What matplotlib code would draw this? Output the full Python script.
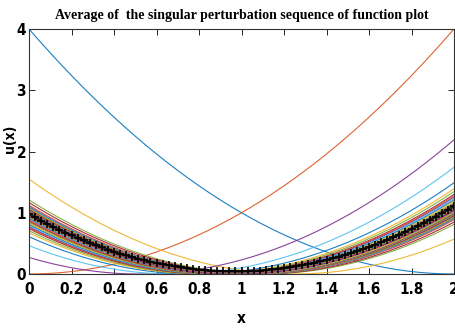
import numpy as np
import matplotlib.pyplot as plt

# centres of the perturbed parabolas u_k(x) = (x - a_k)^2
centres = [2.0, 0.0, 1.245, 0.52, 1.10, 0.68, 1.08, 0.78, 1.06, 0.82,
           1.05, 0.84, 1.045, 0.86, 1.04, 0.87, 1.035, 0.88, 1.03, 0.89,
           1.025, 0.90, 1.02, 0.91, 1.015, 0.92, 1.012, 0.93, 1.01, 0.94,
           1.008, 0.95, 1.006, 0.955, 1.004, 0.96, 1.002, 0.965, 1.0, 0.97,
           0.998, 0.975, 0.996, 0.98, 0.994, 0.982, 0.992, 0.984, 0.99, 0.986,
           0.988, 0.987, 0.99, 0.985, 0.992, 0.983, 0.994, 0.98, 0.996, 0.978]
xs = np.linspace(0, 2, 71)
xticks = [0, 0.2, 0.4, 0.6, 0.8, 1, 1.2, 1.4, 1.6, 1.8, 2]
xticklabels = ['0', '0.2', '0.4', '0.6', '0.8', '1', '1.2', '1.4', '1.6', '1.8', '2']
yticks = [0, 1, 2, 3, 4]

matlab = ['#0072BD', '#D95319', '#EDB120', '#7E2F8E', '#77AC30', '#4DBEEE', '#A2142F']

fig = plt.figure(figsize=(4.55, 3.29), dpi=100)
ax = fig.add_axes([29/455, 55/329, 425/455, 245/329])

xf = np.linspace(0, 2, 201)
curves = [(xf - a) ** 2 for a in centres]
for i, u in enumerate(curves):
    ax.plot(xf, u, color=matlab[i % 7], lw=0.8, alpha=0.9)

avg = np.mean([(xs - a) ** 2 for a in centres], axis=0)
ax.plot(xs, avg, color='#222222', lw=1.8, marker='+', ms=6, mew=1.2,
        mec='black')

ax.set_xlim(0, 2)
ax.set_ylim(0, 4)
ax.set_xticks(xticks)
ax.set_xticklabels(xticklabels)
ax.set_yticks(yticks)
ax.tick_params(direction='in', top=True, right=True, length=4, width=0.6,
               labelsize=11)
ax.tick_params(axis='x', pad=6)
ax.tick_params(axis='y', pad=2)
for lab in ax.get_xticklabels() + ax.get_yticklabels():
    lab.set_family('DejaVu Sans')
    lab.set_stretch('condensed')
    lab.set_weight('bold')
for s in ax.spines.values():
    s.set_linewidth(0.8)
    s.set_color('#333333')

ax.set_xlabel('x', family='DejaVu Sans', stretch='condensed', weight='bold',
              fontsize=11, labelpad=10)
ax.set_ylabel('u(x)', family='DejaVu Sans', stretch='condensed', weight='bold',
              fontsize=10)
ax.yaxis.set_label_coords(-12 / 425, 0.55)
ax.set_title('Average of  the singular perturbation sequence of function plot',
             family='Liberation Serif', weight='bold', fontsize=10, pad=7)

fig.savefig('out.png', dpi=100)
